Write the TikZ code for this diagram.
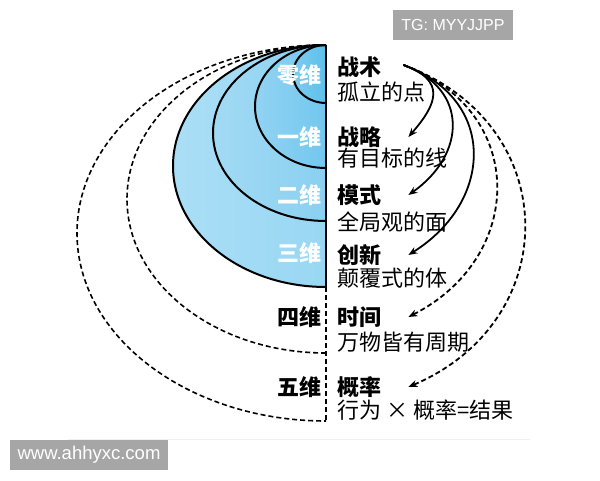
\documentclass[tikz,border=0pt]{standalone}
\usepackage{fontspec}
\setmainfont{Liberation Sans}
\newfontfamily\cjk{Noto Sans CJK SC}
\usetikzlibrary{arrows.meta}
\definecolor{tagGray}{HTML}{A6A6A6}
\definecolor{ringA}{HTML}{ABDEF6}
\definecolor{ringB}{HTML}{98D7F3}
\definecolor{ringC}{HTML}{A2DAF4}
\definecolor{ringD}{HTML}{8AD0F1}
\definecolor{ringE}{HTML}{92D3F2}
\definecolor{ringF}{HTML}{72C7EF}
\definecolor{ringG}{HTML}{7ECCF0}
\definecolor{ringH}{HTML}{5CC0EC}
\tikzset{
  dim/.style={font=\cjk\bfseries\fontsize{22}{26}\selectfont, inner sep=0pt, anchor=east},
  title/.style={font=\cjk\bfseries\fontsize{22}{26}\selectfont, inner sep=0pt, anchor=west},
  sub/.style={font=\cjk\fontsize{22}{26}\selectfont, inner sep=0pt, anchor=west},
  ring/.style={draw=black, line width=2pt},
  halo/.style={draw=black, line width=1.6pt, dash pattern=on 5pt off 3pt},
  link/.style={line width=1.8pt, -{Stealth[length=9pt,width=7pt]}},
  tag/.style={fill=tagGray, text=white, inner sep=0pt, minimum height=30pt}
}
\begin{document}
\begin{tikzpicture}[x=1pt,y=1pt]
		\useasboundingbox (0,0) rectangle (600,480);
		% filled half ellipses
		\path[left color=ringA,right color=ringB] (326,435) arc[start angle=90,end angle=270,x radius=153,y radius=121] -- cycle;
		\path[left color=ringC,right color=ringD] (326,435) arc[start angle=90,end angle=270,x radius=113,y radius=88] -- cycle;
		\path[left color=ringE,right color=ringF] (326,435) arc[start angle=90,end angle=270,x radius=71,y radius=61.5] -- cycle;
		\path[left color=ringG,right color=ringH] (326,435) arc[start angle=90,end angle=270,x radius=33,y radius=29] -- cycle;
		% dashed half ellipses
		\draw[halo] (326,435) arc[start angle=90,end angle=270,x radius=249,y radius=188];
		\draw[halo] (326,435) arc[start angle=90,end angle=270,x radius=199,y radius=154];
		\draw[halo] (326,193) -- (326,59);
		% solid outlines
		\draw[ring] (326,435) arc[start angle=90,end angle=270,x radius=153,y radius=121];
		\draw[ring] (326,435) arc[start angle=90,end angle=270,x radius=113,y radius=88];
		\draw[ring] (326,435) arc[start angle=90,end angle=270,x radius=71,y radius=61.5];
		\draw[ring] (326,435) arc[start angle=90,end angle=270,x radius=33,y radius=29];
		\draw[ring] (326,435) -- (326,193);
		% dimension labels
		\node[dim,text=white] (d0) at (322,405) {零维};
		\node[dim,text=white] (d1) at (322,343) {一维};
		\node[dim,text=white] (d2) at (322,285) {二维};
		\node[dim,text=white] (d3) at (322,227) {三维};
		\node[dim] (d4) at (322,163) {四维};
		\node[dim] (d5) at (322,93) {五维};
		% right texts
		\node[title] (t0) at (337,413) {战术};
		\node[sub] (s0) at (337,388) {孤立的点};
		\node[title] (t1) at (337,343) {战略};
		\node[sub] (s1) at (337,322) {有目标的线};
		\node[title] (t2) at (337,285) {模式};
		\node[sub] (s2) at (337,258) {全局观的面};
		\node[title] (t3) at (337,225) {创新};
		\node[sub] (s3) at (337,202) {颠覆式的体};
		\node[title] (t4) at (337,163) {时间};
		\node[sub] (s4) at (337,138) {万物皆有周期};
		\node[title] (t5) at (337,93) {概率};
		\node[sub] (s5) at (337,70) {行为 × 概率=结果};
		% arrows
		\coordinate (src) at ([xshift=22pt,yshift=2pt]t0.east);
		\draw[link] (src) to[out=-20,in=49,looseness=1.6] ([xshift=27pt]t1.east);
		\draw[link] (src) to[out=-20,in=35,looseness=1.38] ([xshift=27pt]t2.east);
		\draw[link] (src) to[out=-20,in=32,looseness=1.35] ([xshift=27pt]t3.east);
		\draw[link,dash pattern=on 5pt off 3pt] (src) to[out=-20,in=27,looseness=1.34] ([xshift=27pt]t4.east);
		\draw[link,dash pattern=on 5pt off 3pt] (src) to[out=-20,in=23,looseness=1.35] ([xshift=27pt]t5.east);
		% frame line and tags
		\draw[gray!12,line width=0.8pt] (68,41) -- (530,41);
		\node[tag,minimum width=120pt,font=\fontsize{16}{18}\selectfont] (tg) at (453,455) {TG: MYYJJPP};
		\node[tag,minimum width=158pt,font=\fontsize{18.5}{20}\selectfont] (web) at (89,25) {www.ahhyxc.com};
\end{tikzpicture}
\end{document}
